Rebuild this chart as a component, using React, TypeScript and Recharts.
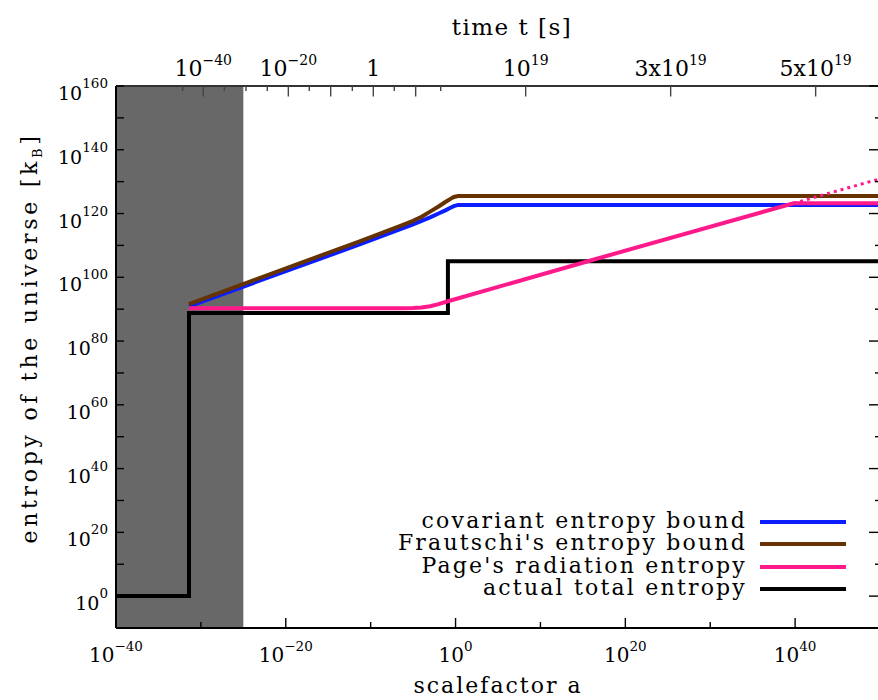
import React from 'react';
import { LineChart, Line, XAxis, YAxis, ReferenceArea, Legend, Label } from 'recharts';

// ---------- data (log10 values) ----------
const xDomain = [-40, 50]; // log10 scalefactor a
const yDomain = [-10, 160]; // log10 entropy [k_B]

const bottomTicks = [-40, -30, -20, -10, 0, 10, 20, 30, 40, 50];
const bottomLabelTicks = [-40, -20, 0, 20, 40];
const leftTicks = [0, 10, 20, 30, 40, 50, 60, 70, 80, 90, 100, 110, 120, 130, 140, 150, 160];
const leftLabelTicks = [0, 20, 40, 60, 80, 100, 120, 140, 160];

// time axis (top): positions in log10(a), labels
const topTickPos = [-32.14, -29.72, -27.24, -24.69, -22.18, -19.7, -17.23, -14.71, -12.16, -9.69, -7.22, -4.7, -1.75, 8.26, 25.34, 42.42];
const topTickBase = ['', '10', '', '', '', '10', '', '', '', '1', '', '', '', '10', '3x10', '5x10'];
const topTickExp = ['', '\u221240', '', '', '', '\u221220', '', '', '', '', '', '', '', '19', '19', '19'];
const topTickLong = [false, true, false, false, false, true, false, true, false, true, false, true, false, true, true, true];

const blackLogA = [-40, -31.4, -31.4, -0.9, -0.9, 50];
const blackLogS = [0, 0, 88.8, 88.8, 105, 105];

const blueLogA = [-31.4, -11.3, -6.5, -5, -4, -3, -2, -1.2, -0.6, -0.2, 0.3, 50];
const blueLogS = [90.9, 110.3, 115.1, 116.6, 117.7, 118.8, 120.0, 121.0, 121.8, 122.3, 122.7, 122.7];

const brownLogA = [-31.4, -11.3, -6.5, -5, -4, -3, -2, -1.2, -0.6, -0.2, 0.3, 50];
const brownLogS = [91.6, 111.3, 116.1, 117.7, 119.0, 120.6, 122.2, 123.6, 124.6, 125.2, 125.5, 125.5];

const pinkLogA = [-31.4, -6, -5, -4, -3, -2, -1, 15.8, 39.8, 50];
const pinkLogS = [90.3, 90.3, 90.35, 90.5, 90.9, 91.6, 92.4, 105.2, 123.2, 123.2];

const pinkDotLogA = [39.8, 50];
const pinkDotLogS = [123.2, 130.9];

const shadedLogA = [-40, -25];

const seriesNames = ['covariant entropy bound', "Frautschi's entropy bound", "Page's radiation entropy", 'actual total entropy'];
const seriesColors = ['#0a1eff', '#663300', '#ff1a8c', '#000000'];

const zip = (xs: number[], ys: number[]) => xs.map((x, i) => ({ x, y: ys[i] }));
const blackData = zip(blackLogA, blackLogS);
const blueData = zip(blueLogA, blueLogS);
const brownData = zip(brownLogA, brownLogS);
const pinkData = zip(pinkLogA, pinkLogS);
const pinkDotData = zip(pinkDotLogA, pinkDotLogS);

// ---------- layout ----------
const W = 900;
const H = 700;
const AXW = 60; // left y axis width
const AXWR = 20; // right y axis width
const AXH = 30; // x axis height
const MARGIN = { top: 86 - AXH, right: 0, bottom: 72 - AXH, left: 116 - AXW };
const SERIF = "'DejaVu Serif', 'Liberation Serif', serif";

const LeftTick = (props: any) => {
  const { x, y, payload } = props;
  const v = payload.value;
  const major = leftLabelTicks.includes(v);
  return (
    <g>
      <line x1={x} x2={x + 8} y1={y} y2={y} stroke="#000" strokeWidth={1.4} />
      {major && (
        <text x={x - 8} y={y + 14} textAnchor="end" fontFamily={SERIF} fontSize={19} fill="#000">
          <tspan>10</tspan>
          <tspan dy={-12} fontSize={13.5}>{String(v)}</tspan>
        </text>
      )}
    </g>
  );
};

const RightTick = (props: any) => {
  const { x, y, payload } = props;
  const v = payload.value;
  const major = leftLabelTicks.includes(v);
  return <line x1={x} x2={x - (major ? 11 : 5)} y1={y} y2={y} stroke="#000" strokeWidth={1.4} />;
};

const BottomTick = (props: any) => {
  const { x, y, payload } = props;
  const v = payload.value;
  const major = bottomLabelTicks.includes(v);
  const exp = v < 0 ? '\u2212' + String(-v) : String(v);
  return (
    <g>
      <line x1={x} x2={x} y1={y} y2={y - (major ? 10 : 6)} stroke="#000" strokeWidth={1.4} />
      {major && (
        <text x={x} y={y + 34} textAnchor="middle" fontFamily={SERIF} fontSize={20} fill="#000">
          <tspan>10</tspan>
          <tspan dy={-11} fontSize={13.5}>{exp}</tspan>
        </text>
      )}
    </g>
  );
};

const TopTick = (props: any) => {
  const { x, y, payload } = props;
  const i = topTickPos.indexOf(payload.value);
  if (i < 0) return null;
  const base = topTickBase[i];
  const exp = topTickExp[i];
  return (
    <g>
      <line x1={x} x2={x} y1={y} y2={y + (topTickLong[i] ? 10.5 : 5)} stroke="#444" strokeWidth={1.4} />
      {base && (
        <text x={x} y={y - 10} textAnchor="middle" fontFamily={SERIF} fontSize={22} fill="#000">
          <tspan>{base}</tspan>
          {exp && <tspan dy={-11} fontSize={14}>{exp}</tspan>}
        </text>
      )}
    </g>
  );
};

const LegendBox = () => (
  <div style={{ position: 'relative', width: W, height: H, pointerEvents: 'none' }}>
    {seriesNames.map((name, i) => {
      const cy = 521.7 + i * 22.5;
      return (
        <React.Fragment key={name}>
          <div
            style={{
              position: 'absolute',
              right: W - 747,
              top: cy - 12,
              fontFamily: SERIF,
              fontSize: 22,
              letterSpacing: 2.2,
              lineHeight: '22px',
              height: 22,
              whiteSpace: 'nowrap',
              color: '#000',
            }}
          >
            {name}
          </div>
          <div style={{ position: 'absolute', left: 760, top: cy - 2, width: 86, height: 4, background: seriesColors[i] }} />
        </React.Fragment>
      );
    })}
  </div>
);

export default function App() {
  return (
    <div style={{ position: 'fixed', left: 0, top: 0, width: 878, height: 700, overflow: 'hidden', background: '#fff' }}>
      <LineChart width={W} height={H} margin={MARGIN}>
        <XAxis
          xAxisId="bottom"
          dataKey="x"
          type="number"
          domain={xDomain}
          ticks={bottomTicks}
          interval={0}
          allowDataOverflow
          height={AXH}
          tickSize={0}
          tickMargin={0}
          tickLine={false}
          tick={<BottomTick />}
          axisLine={{ stroke: '#000', strokeWidth: 2 }}
        >
          <Label
            content={() => (
              <text x={498} y={693} textAnchor="middle" fontFamily={SERIF} fontSize={22} letterSpacing={2} fill="#000">
                scalefactor a
              </text>
            )}
          />
        </XAxis>
        <XAxis
          xAxisId="top"
          orientation="top"
          dataKey="x"
          type="number"
          domain={xDomain}
          ticks={topTickPos}
          interval={0}
          allowDataOverflow
          height={AXH}
          tickSize={0}
          tickMargin={0}
          tickLine={false}
          tick={<TopTick />}
          axisLine={{ stroke: '#333', strokeWidth: 2 }}
        >
          <Label
            content={() => (
              <text x={512} y={35} textAnchor="middle" fontFamily={SERIF} fontSize={23} letterSpacing={1.5} fill="#000">
                time t [s]
              </text>
            )}
          />
        </XAxis>
        <YAxis
          yAxisId="left"
          type="number"
          domain={yDomain}
          ticks={leftTicks}
          interval={0}
          allowDataOverflow
          width={AXW}
          tickSize={0}
          tickMargin={0}
          tickLine={false}
          tick={<LeftTick />}
          axisLine={{ stroke: '#000', strokeWidth: 2 }}
        >
          <Label
            content={() => (
              <text
                x={37}
                y={338}
                transform="rotate(-90, 37, 338)"
                textAnchor="middle"
                fontFamily={SERIF}
                fontSize={22}
                letterSpacing={3.7}
                fill="#000"
              >
                <tspan>entropy of the universe [k</tspan>
                <tspan dy={5} fontSize={13}>B</tspan>
                <tspan dy={-5}>]</tspan>
              </text>
            )}
          />
        </YAxis>
        <YAxis
          yAxisId="right"
          orientation="right"
          type="number"
          domain={yDomain}
          ticks={leftTicks}
          interval={0}
          allowDataOverflow
          width={AXWR}
          tickSize={0}
          tickMargin={0}
          tickLine={false}
          tick={<RightTick />}
          axisLine={false}
        />
        <ReferenceArea
          xAxisId="bottom"
          yAxisId="left"
          x1={shadedLogA[0]}
          x2={shadedLogA[1]}
          y1={yDomain[0]}
          y2={yDomain[1]}
          fill="#686868"
          fillOpacity={1}
          stroke="none"
        />
        <Line xAxisId="bottom" yAxisId="left" data={blackData} dataKey="y" type="linear" stroke={seriesColors[3]} strokeWidth={4} dot={false} activeDot={false} isAnimationActive={false} />
        <Line xAxisId="bottom" yAxisId="left" data={blueData} dataKey="y" type="linear" stroke={seriesColors[0]} strokeWidth={4} dot={false} activeDot={false} isAnimationActive={false} />
        <Line xAxisId="bottom" yAxisId="left" data={brownData} dataKey="y" type="linear" stroke={seriesColors[1]} strokeWidth={4} dot={false} activeDot={false} isAnimationActive={false} />
        <Line xAxisId="bottom" yAxisId="left" data={pinkData} dataKey="y" type="linear" stroke={seriesColors[2]} strokeWidth={4} dot={false} activeDot={false} isAnimationActive={false} />
        <Line xAxisId="bottom" yAxisId="left" data={pinkDotData} dataKey="y" type="linear" stroke={seriesColors[2]} strokeWidth={3} strokeDasharray="3 4" dot={false} activeDot={false} isAnimationActive={false} />
        <Legend layout="vertical" align="center" verticalAlign="middle" wrapperStyle={{ left: 0, top: 0, width: W, height: H }} content={() => <LegendBox />} />
      </LineChart>
    </div>
  );
}
